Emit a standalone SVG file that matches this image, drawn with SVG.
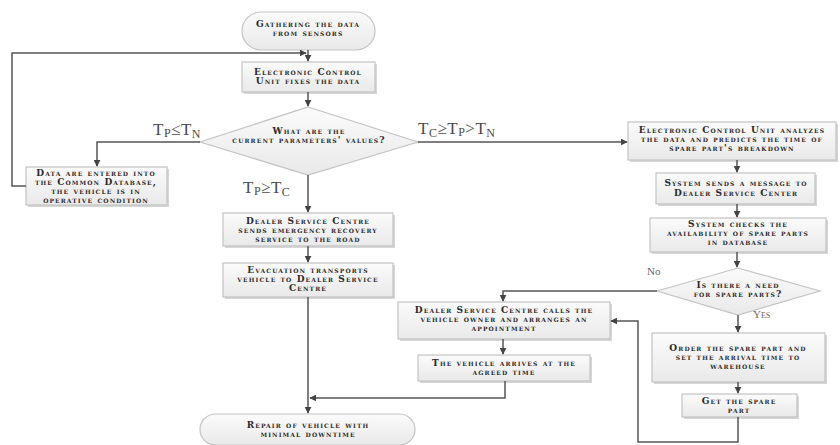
<svg xmlns="http://www.w3.org/2000/svg" width="840" height="445" viewBox="0 0 840 445">
<defs>
<linearGradient id="g" x1="0" y1="0" x2="0" y2="1">
<stop offset="0" stop-color="#fbfbfb"/><stop offset="1" stop-color="#e9e9e9"/>
</linearGradient>
<marker id="a" viewBox="0 0 10 10" refX="9" refY="5" markerWidth="7" markerHeight="7" markerUnits="userSpaceOnUse" orient="auto">
<path d="M0,0 L10,5 L0,10 z" fill="#444"/>
</marker>
</defs>
<style>
.b{fill:url(#g);stroke:#c4c4c4;stroke-width:1.2}
.s{fill:#d6d6d6}
.t{font-family:"DejaVu Serif",serif;font-weight:bold;font-variant:small-caps;font-size:9px;letter-spacing:1.1px;fill:#2a2a2a;text-anchor:middle}
.l{font-family:"Liberation Serif",serif;font-size:17px;letter-spacing:0.5px;fill:#4a4a4a}
.y{font-family:"Liberation Serif",serif;font-size:11px;fill:#666}
.c{fill:none;stroke:#555;stroke-width:1.5;marker-end:url(#a)}
</style>
<rect width="840" height="445" fill="#fff"/>

<g id="n_start">
<rect class="b" x="242" y="12" width="133" height="38" rx="19"/>
<text class="t" x="308" y="27">Gathering the data</text>
<text class="t" x="308" y="36">from sensors</text>
</g>

<g id="n_fix">
<rect class="s" x="244" y="64" width="133" height="30"/>
<rect class="b" x="242" y="62" width="133" height="30"/>
<text class="t" x="308" y="75">Electronic Control</text>
<text class="t" x="308" y="84">Unit fixes the data</text>
</g>

<g id="n_dec1">
<polygon class="b" points="308,107 418,142 308,175 200,142"/>
<text class="t" x="309" y="134">What are the</text>
<text class="t" x="309" y="143">current parameters' values?</text>
</g>

<g id="n_db">
<rect class="s" x="28" y="169" width="141" height="38"/>
<rect class="b" x="26" y="167" width="141" height="38"/>
<text class="t" x="96" y="176">Data are entered into</text>
<text class="t" x="96" y="185">the Common Database,</text>
<text class="t" x="96" y="194">the  vehicle is in</text>
<text class="t" x="96" y="203">operative condition</text>
</g>

<g id="n_emerg">
<rect class="s" x="225" y="215" width="170" height="33"/>
<rect class="b" x="223" y="213" width="170" height="33"/>
<text class="t" x="308" y="224">Dealer Service Centre</text>
<text class="t" x="308" y="233">sends emergency recovery</text>
<text class="t" x="308" y="242">service to the road</text>
</g>

<g id="n_evac">
<rect class="s" x="225" y="265" width="170" height="34"/>
<rect class="b" x="223" y="263" width="170" height="34"/>
<text class="t" x="308" y="273">Evacuation transports</text>
<text class="t" x="308" y="282">vehicle to Dealer Service</text>
<text class="t" x="308" y="291">Centre</text>
</g>

<g id="n_repair">
<rect class="b" x="200" y="414" width="215" height="31" rx="15.5"/>
<text class="t" x="308" y="428">Repair of vehicle with</text>
<text class="t" x="308" y="437">minimal downtime</text>
</g>

<g id="n_analyze">
<rect class="s" x="630" y="124" width="208" height="38"/>
<rect class="b" x="628" y="122" width="208" height="38"/>
<text class="t" x="732" y="133">Electronic Control Unit analyzes</text>
<text class="t" x="732" y="142">the data and predicts the time of</text>
<text class="t" x="732" y="151">spare part's breakdown</text>
</g>

<g id="n_msg">
<rect class="s" x="658" y="175" width="159" height="31"/>
<rect class="b" x="656" y="173" width="159" height="31"/>
<text class="t" x="736" y="186">System sends a message to</text>
<text class="t" x="736" y="196">Dealer Service Center</text>
</g>

<g id="n_check">
<rect class="s" x="652" y="220" width="176" height="34"/>
<rect class="b" x="650" y="218" width="176" height="34"/>
<text class="t" x="738" y="227">System checks the</text>
<text class="t" x="738" y="236">availability of spare parts</text>
<text class="t" x="738" y="245">in database</text>
</g>

<g id="n_dec2">
<polygon class="b" points="738,268 820,291 738,315 657,291"/>
<text class="t" x="738" y="288">Is there a need</text>
<text class="t" x="738" y="297">for spare parts?</text>
</g>

<g id="n_call">
<rect class="s" x="400" y="304" width="212" height="37"/>
<rect class="b" x="398" y="302" width="212" height="37"/>
<text class="t" x="504" y="313">Dealer Service Centre calls the</text>
<text class="t" x="504" y="322">vehicle owner and arranges an</text>
<text class="t" x="504" y="331">appointment</text>
</g>

<g id="n_arrive">
<rect class="s" x="420" y="357" width="172" height="26"/>
<rect class="b" x="418" y="355" width="172" height="26"/>
<text class="t" x="504" y="366">The vehicle arrives at the</text>
<text class="t" x="504" y="375">agreed time</text>
</g>

<g id="n_order">
<rect class="s" x="654" y="335" width="173" height="49"/>
<rect class="b" x="652" y="333" width="173" height="49"/>
<text class="t" x="738" y="351">Order the spare part and</text>
<text class="t" x="738" y="360">set the arrival time to</text>
<text class="t" x="738" y="369">warehouse</text>
</g>

<g id="n_get">
<rect class="s" x="684" y="396" width="115" height="23"/>
<rect class="b" x="682" y="394" width="115" height="23"/>
<text class="t" x="739" y="404">Get the spare</text>
<text class="t" x="739" y="413">part</text>
</g>

<g id="connectors">
<path class="c" d="M308,50 V61"/>
<path class="c" d="M26,186 H12 V53 H306"/>
<path class="c" d="M308,92 V106"/>
<path class="c" d="M200,142 H97 V166"/>
<path class="c" d="M418,142 H627"/>
<path class="c" d="M308,175 V212"/>
<path class="c" d="M308,246 V262"/>
<path class="c" d="M308,297 V413"/>
<path class="c" d="M505,381 V398 H310"/>
<path class="c" d="M737,160 V172"/>
<path class="c" d="M737,204 V217"/>
<path class="c" d="M737,252 V267"/>
<path class="c" d="M657,291 H503 V301"/>
<path class="c" d="M738,315 V332"/>
<path class="c" d="M738,382 V393"/>
<path class="c" d="M738,417 V442 H638 V321 H611"/>
<path class="c" d="M503,339 V354"/>
</g>

<g id="labels">
<text class="l" x="153" y="135">T<tspan font-size="12" dy="2">P</tspan><tspan dy="-2">≤T</tspan><tspan font-size="12" dy="3">N</tspan></text>
<text class="l" x="418" y="134">T<tspan font-size="12" dy="3">C</tspan><tspan dy="-3">≥T</tspan><tspan font-size="12" dy="2">P</tspan><tspan dy="-2">&gt;T</tspan><tspan font-size="12" dy="3">N</tspan></text>
<text class="l" x="243" y="193">T<tspan font-size="12" dy="2">P</tspan><tspan dy="-2">≥T</tspan><tspan font-size="12" dy="3">C</tspan></text>
<text class="y" x="647" y="275">No</text>
<text class="y" x="753" y="318" font-variant="small-caps">Yes</text>
</g>
</svg>
